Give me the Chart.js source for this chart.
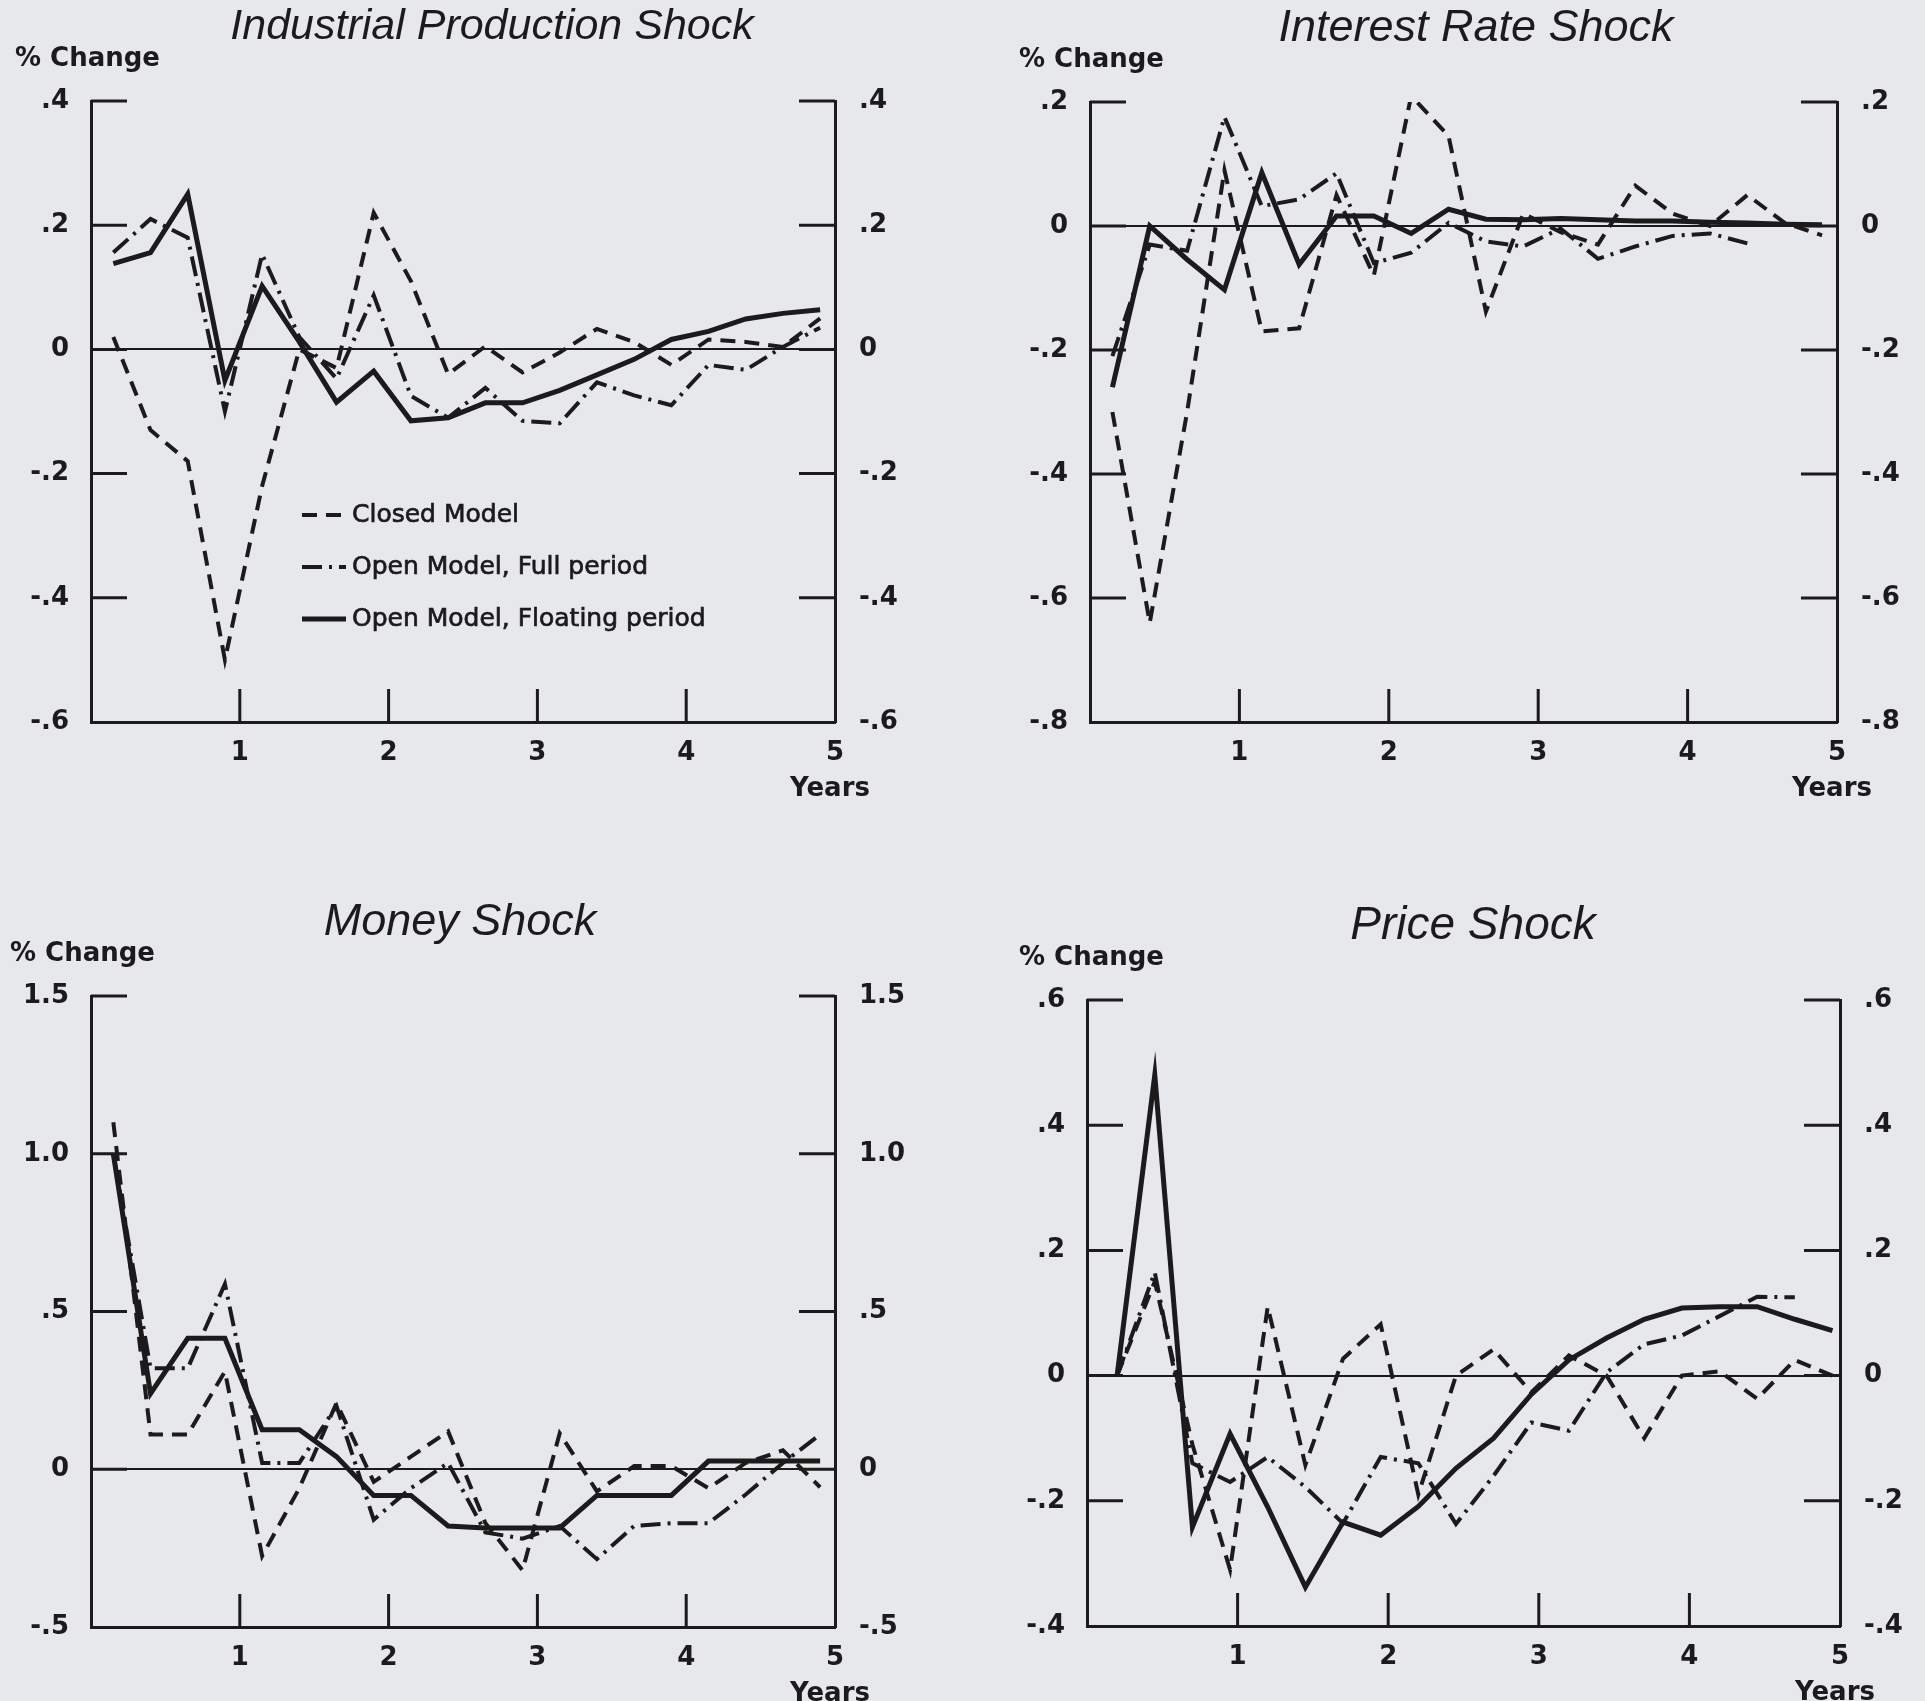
<!DOCTYPE html>
<html>
<head>
<meta charset="utf-8">
<title>Shock responses</title>
<script src="https://cdn.jsdelivr.net/npm/chart.js@4.4.1/dist/chart.umd.min.js"></script>
<style>
  html, body { margin: 0; padding: 0; }
  body { width: 1925px; height: 1701px; background: #e7e8eb; position: relative; overflow: hidden; }
  .panel { position: absolute; }
</style>
</head>
<body>
<div class="panel" id="ipBox"><canvas id="ipChart"></canvas></div>
<div class="panel" id="irBox"><canvas id="irChart"></canvas></div>
<div class="panel" id="mBox"><canvas id="mChart"></canvas></div>
<div class="panel" id="pBox"><canvas id="pChart"></canvas></div>
<script>
// quarters after the shock (5 year horizon)
const quarters = [1, 2, 3, 4, 5, 6, 7, 8, 9, 10, 11, 12, 13, 14, 15, 16, 17, 18, 19, 20];
const yearTicks = [0, 1, 2, 3, 4, 5];
const seriesNames = ["Closed Model", "Open Model, Full period", "Open Model, Floating period"];

// Industrial production shock, % change
const ipClosed    = [0.02, -0.13, -0.18, -0.50, -0.22, 0.0, -0.03, 0.22, 0.11, -0.04, 0.005, -0.037, -0.005, 0.033, 0.012, -0.025, 0.016, 0.012, 0.004, 0.05];
const ipOpenFull  = [0.156, 0.21, 0.18, -0.10, 0.153, 0.02, -0.047, 0.087, -0.075, -0.11, -0.062, -0.115, -0.119, -0.053, -0.074, -0.09, -0.025, -0.033, 0.004, 0.035];
const ipOpenFloat = [0.138, 0.156, 0.25, -0.05, 0.102, 0.012, -0.085, -0.035, -0.115, -0.11, -0.086, -0.086, -0.066, -0.041, -0.016, 0.016, 0.029, 0.049, 0.058, 0.064];

// Interest rate shock
const irClosed    = [-0.30, -0.64, -0.30, 0.09, -0.17, -0.165, 0.05, -0.08, 0.21, 0.145, -0.138, 0.02, -0.01, -0.03, 0.065, 0.02, 0.0, 0.05, 0.005, -0.015];
const irOpenFull  = [-0.21, -0.03, -0.04, 0.176, 0.032, 0.043, 0.085, -0.06, -0.043, 0.005, -0.025, -0.033, -0.004, -0.053, -0.033, -0.016, -0.012, -0.028, null, null];
const irOpenFloat = [-0.26, 0.0, -0.054, -0.103, 0.086, -0.062, 0.016, 0.016, -0.012, 0.027, 0.011, 0.01, 0.012, 0.01, 0.008, 0.008, 0.006, 0.005, 0.003, 0.002];

// Money shock
const mClosed    = [1.10, 0.11, 0.11, 0.31, -0.275, -0.06, 0.21, -0.04, 0.04, 0.12, -0.17, -0.32, 0.114, -0.07, 0.01, 0.01, -0.06, 0.02, 0.06, -0.057];
const mOpenFull  = [1.0, 0.32, 0.32, 0.587, 0.02, 0.02, 0.2, -0.16, -0.06, 0.02, -0.2, -0.22, -0.18, -0.285, -0.18, -0.171, -0.171, -0.08, 0.02, 0.11];
const mOpenFloat = [1.0, 0.24, 0.415, 0.415, 0.125, 0.125, 0.04, -0.083, -0.083, -0.18, -0.186, -0.186, -0.186, -0.083, -0.083, -0.083, 0.026, 0.026, 0.026, 0.026];

// Price shock
const pClosed    = [0.0, 0.15, -0.11, -0.31, 0.11, -0.143, 0.027, 0.082, -0.19, 0.0, 0.042, -0.027, 0.032, 0.0, -0.1, 0.0, 0.007, -0.037, 0.025, 0.0];
const pOpenFull  = [0.0, 0.165, -0.14, -0.17, -0.13, -0.178, -0.236, -0.13, -0.14, -0.237, -0.16, -0.075, -0.088, 0.005, 0.05, 0.064, 0.095, 0.126, 0.125, null];
const pOpenFloat = [0.0, 0.48, -0.242, -0.093, -0.21, -0.338, -0.234, -0.255, -0.209, -0.148, -0.1, -0.03, 0.025, 0.06, 0.09, 0.108, 0.11, 0.11, 0.09, 0.072];

const ink = "#1c1a1b";
const tickFont = { family: "DejaVu Sans", size: 26, weight: "bold" };
const lineStyles = [
  { borderDash: [15, 9], borderWidth: 4 },
  { borderDash: [20, 7, 3, 7], borderWidth: 4 },
  { borderDash: [], borderWidth: 5 }
];

// ".4", "-.2", "1.0" style value labels
function fmtTick(v) {
  if (Math.abs(v) < 1e-9) return "0";
  const s = v.toFixed(1);
  return Math.abs(v) >= 1 ? s : s.replace("0.", ".");
}

// tick marks pointing into the plot, headings and the legend
const shockDecor = {
  id: "shockDecor",
  beforeDatasetsDraw(chart, args, opts) {
    const { ctx, chartArea: a, scales } = chart;
    ctx.save();
    ctx.strokeStyle = ink;
    ctx.lineWidth = 3;
    ctx.beginPath();
    scales.y.ticks.forEach(t => {
      const py = scales.y.getPixelForValue(t.value);
      if (py >= a.bottom - 2) return;
      ctx.moveTo(a.left, py); ctx.lineTo(a.left + 36, py);
      ctx.moveTo(a.right - 36, py); ctx.lineTo(a.right, py);
    });
    scales.x.ticks.forEach(t => {
      if (t.value <= 0 || t.value >= 5) return;
      const px = scales.x.getPixelForValue(t.value);
      ctx.moveTo(px, a.bottom); ctx.lineTo(px, a.bottom - 33);
    });
    ctx.stroke();
    ctx.restore();
  },
  afterDraw(chart, args, opts) {
    const { ctx, chartArea: a } = chart;
    ctx.save();
    ctx.fillStyle = ink;
    ctx.strokeStyle = ink;
    ctx.textBaseline = "middle";
    ctx.textAlign = "center";
    ctx.font = "italic " + opts.titleSize + "px 'Liberation Sans'";
    ctx.fillText(opts.title, a.left + opts.titleX, a.top - 74);
    ctx.font = "bold 26px 'DejaVu Sans'";
    ctx.fillText("Years", a.right - 5, a.bottom + 67);
    ctx.textAlign = "left";
    ctx.fillText("% Change", a.left + opts.changeX, a.top - 42);
    if (opts.legend) {
      ctx.font = "25px 'DejaVu Sans'";
      chart.data.datasets.forEach((ds, i) => {
        const y = a.top + 414 + 52 * i;
        ctx.save();
        ctx.lineWidth = ds.borderWidth;
        ctx.setLineDash(ds.borderDash);
        ctx.beginPath();
        ctx.moveTo(a.left + 211, y);
        ctx.lineTo(a.left + 255, y);
        ctx.stroke();
        ctx.restore();
        ctx.fillText(ds.label, a.left + 261, y);
        // slightly heavier lettering
        ctx.lineWidth = 0.7;
        ctx.strokeText(ds.label, a.left + 261, y);
      });
    }
    ctx.restore();
  }
};
Chart.register(shockDecor);

function drawPanel(boxId, canvasId, p) {
  const [l, t, r, b] = p.box;
  const padL = 92, padR = 90, padT = 110, padB = 90;
  const box = document.getElementById(boxId);
  box.style.left = (l - padL) + "px";
  box.style.top = (t - padT) + "px";
  const canvas = document.getElementById(canvasId);
  canvas.width = r - l + padL + padR;
  canvas.height = b - t + padT + padB;

  const toPoints = vals => vals
    .map((v, i) => ({ x: (quarters[i] - 1) / 4 + p.lead, y: v }))
    .filter(pt => pt.y !== null);

  const valueAxis = (position, pad) => ({
    position,
    min: p.yMin,
    max: p.yMax,
    ticks: { stepSize: p.yStep, callback: fmtTick, color: ink, font: tickFont, padding: pad },
    border: { display: true, color: ink, width: 3 },
    afterFit: s => { s.width = position === "left" ? padL : padR; }
  });

  const yLeft = valueAxis("left", 22);
  yLeft.grid = {
    drawTicks: false,
    color: c => Math.abs(c.tick.value) < 1e-9 ? ink : "rgba(0,0,0,0)",
    lineWidth: 2
  };
  const yRight = valueAxis("right", 24);
  yRight.grid = { display: false, drawTicks: false };

  new Chart(canvas.getContext("2d"), {
    type: "line",
    data: {
      datasets: p.series.map((vals, i) => ({
        label: seriesNames[i],
        data: toPoints(vals),
        yAxisID: "y",
        borderColor: ink,
        borderDash: lineStyles[i].borderDash,
        borderWidth: lineStyles[i].borderWidth,
        borderCapStyle: "butt",
        borderJoinStyle: "miter",
        pointRadius: 0,
        tension: 0,
        fill: false
      }))
    },
    options: {
      responsive: false,
      animation: false,
      devicePixelRatio: 1,
      layout: { padding: { top: padT, left: 0, right: 0, bottom: 0 } },
      plugins: {
        legend: { display: false },
        tooltip: { enabled: false },
        shockDecor: { title: p.title, titleSize: p.titleSize, titleX: p.titleX, changeX: p.changeX, legend: p.legend }
      },
      scales: {
        x: {
          type: "linear",
          min: yearTicks[0],
          max: yearTicks[yearTicks.length - 1],
          afterBuildTicks: s => { s.ticks = yearTicks.map(v => ({ value: v })); },
          ticks: { callback: v => v === 0 ? "" : String(v), color: ink, font: tickFont, padding: 16, maxRotation: 0, autoSkip: false },
          grid: { display: false, drawTicks: false },
          border: { display: true, color: ink, width: 3 },
          afterFit: s => { s.height = padB; }
        },
        y: yLeft,
        y2: yRight
      }
    }
  });
}

drawPanel("ipBox", "ipChart", {
  title: "Industrial Production Shock", titleSize: 43, box: [91, 101, 835, 722], titleX: 401, changeX: -76,
  yMin: -0.6, yMax: 0.4, yStep: 0.2, lead: 0.15, legend: true,
  series: [ipClosed, ipOpenFull, ipOpenFloat]
});
drawPanel("irBox", "irChart", {
  title: "Interest Rate Shock", titleSize: 45, box: [1090, 102, 1837, 722], titleX: 386, changeX: -71,
  yMin: -0.8, yMax: 0.2, yStep: 0.2, lead: 0.15, legend: false,
  series: [irClosed, irOpenFull, irOpenFloat]
});
drawPanel("mBox", "mChart", {
  title: "Money Shock", titleSize: 45, box: [91, 996, 835, 1627], titleX: 369, changeX: -81,
  yMin: -0.5, yMax: 1.5, yStep: 0.5, lead: 0.15, legend: false,
  series: [mClosed, mOpenFull, mOpenFloat]
});
drawPanel("pBox", "pChart", {
  title: "Price Shock", titleSize: 46, box: [1087, 1000, 1840, 1626], titleX: 386, changeX: -68,
  yMin: -0.4, yMax: 0.6, yStep: 0.2, lead: 0.2, legend: false,
  series: [pClosed, pOpenFull, pOpenFloat]
});
</script>
</body>
</html>
